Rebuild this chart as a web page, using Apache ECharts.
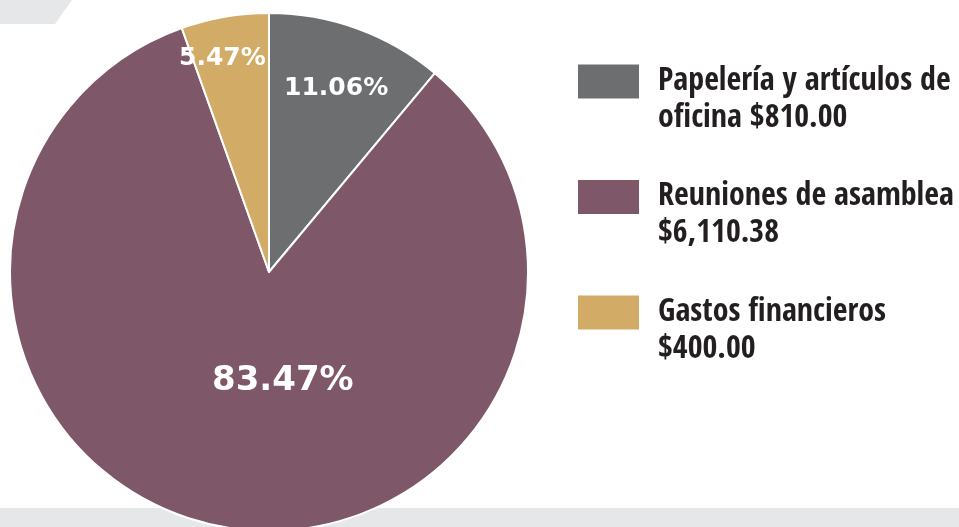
<!DOCTYPE html>
<html><head><meta charset="utf-8">
<script src="https://cdn.jsdelivr.net/npm/echarts@6/dist/echarts.min.js"></script>
<style>html,body{margin:0;padding:0;background:#fff}#c{width:959px;height:527px}</style>
</head><body><div id="c"></div>
<script>
var categories = ['Papelería y artículos de oficina', 'Reuniones de asamblea', 'Gastos financieros'];
var amounts = [810.00, 6110.38, 400.00];
var percentLabels = ['11.06%', '83.47%', '5.47%'];
var legendLines = [
  ['Papelería y artículos de', 'oficina $810.00'],
  ['Reuniones de asamblea', '$6,110.38'],
  ['Gastos financieros', '$400.00']
];
var colors = ['#6d6e70', '#7e5768', '#d2ab67'];

var labelSizes = [25, 34, 25];
var labelShift = [[22, -59], [37, -21], [-24, -83]];

var chart = echarts.init(document.getElementById('c'), null, {renderer: 'canvas'});
chart.setOption({
  backgroundColor: '#ffffff',
  animation: false,
  graphic: [
    {type: 'rect', z: 0, shape: {x: 0, y: 508, width: 959, height: 19}, style: {fill: '#e6e7e8'}},
    {type: 'polygon', z: 0, shape: {points: [[0, 0], [72, 0], [55, 24], [0, 24]]}, style: {fill: '#e6e7e8'}}
  ],
  legend: {
    orient: 'vertical',
    left: 571,
    top: 21,
    itemWidth: 63,
    itemHeight: 36,
    itemGap: 4.5,
    icon: 'rect',
    data: categories,
    formatter: function (name) {
      var i = categories.indexOf(name);
      return '\n' + legendLines[i].join('\n');
    },
    textStyle: {
      fontFamily: '"Arial Narrow", "Nimbus Sans Narrow", "Liberation Sans Narrow", "Noto Sans Condensed", "Open Sans Condensed", "DejaVu Sans Condensed", sans-serif',
      fontWeight: 'bold',
      fontSize: 32,
      lineHeight: 37,
      color: '#231f20',
      padding: [0, 0, 0, 13]
    }
  },
  series: [{
    type: 'pie',
    center: [269, 272],
    radius: 259,
    startAngle: 90,
    clockwise: true,
    avoidLabelOverlap: false,
    itemStyle: {borderColor: '#ffffff', borderWidth: 2},
    label: {
      show: true,
      position: 'inside',
      color: '#ffffff',
      fontFamily: '"DejaVu Sans", Verdana, sans-serif',
      fontWeight: 'bold',
      formatter: function (p) { return percentLabels[p.dataIndex]; }
    },
    labelLayout: function (p) {
      return {dx: labelShift[p.dataIndex][0], dy: labelShift[p.dataIndex][1]};
    },
    data: categories.map(function (c, i) {
      return {name: c, value: amounts[i], itemStyle: {color: colors[i]}, label: {fontSize: labelSizes[i]}};
    })
  }]
});
</script></body></html>
